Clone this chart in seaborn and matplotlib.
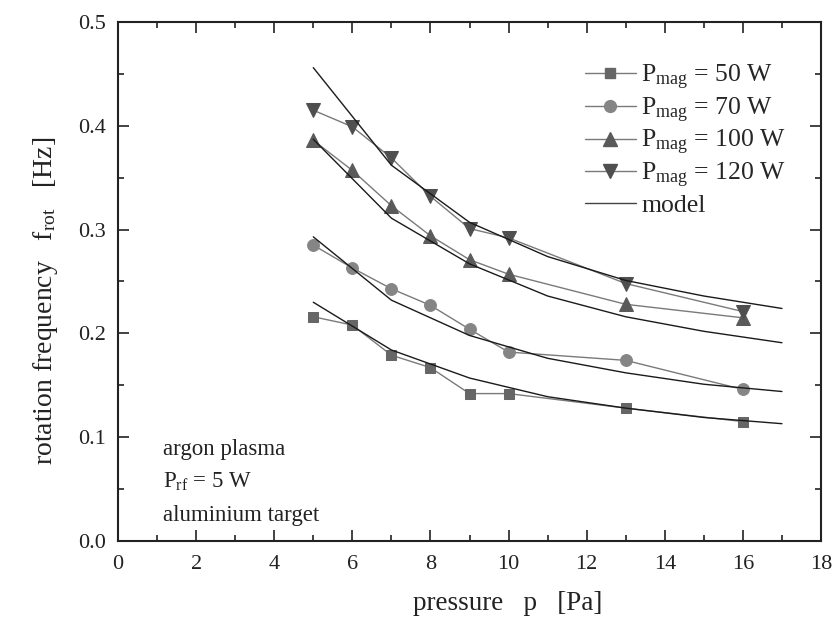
import numpy as np
import pandas as pd
import matplotlib
matplotlib.use("Agg")
import matplotlib.pyplot as plt
from matplotlib.lines import Line2D
from matplotlib.ticker import MultipleLocator
import seaborn as sns

# measured data
pressure = [5, 6, 7, 8, 9, 10, 13, 16]
f_50 = [0.216, 0.208, 0.179, 0.167, 0.142, 0.142, 0.128, 0.115]
f_70 = [0.285, 0.263, 0.243, 0.227, 0.204, 0.182, 0.174, 0.146]
f_100 = [0.386, 0.357, 0.323, 0.294, 0.271, 0.257, 0.228, 0.215]
f_120 = [0.415, 0.399, 0.369, 0.332, 0.301, 0.292, 0.248, 0.221]

# model curves
p_model = [5, 7, 9, 11, 13, 15, 17]
m_50 = [0.230, 0.184, 0.157, 0.139, 0.128, 0.119, 0.113]
m_70 = [0.293, 0.232, 0.198, 0.176, 0.162, 0.151, 0.144]
m_100 = [0.387, 0.311, 0.267, 0.236, 0.216, 0.202, 0.191]
m_120 = [0.456, 0.362, 0.307, 0.274, 0.251, 0.236, 0.224]

labels = ["50 W", "70 W", "100 W", "120 W"]

sns.set_style("ticks")
plt.rcParams['font.family'] = ['Liberation Serif', 'DejaVu Serif']
plt.rcParams['mathtext.fontset'] = 'custom'
plt.rcParams['mathtext.rm'] = 'Liberation Serif'
plt.rcParams['mathtext.it'] = 'Liberation Serif:italic'

fig = plt.figure(figsize=(8.4, 6.26), dpi=100)
ax = fig.add_axes([0.1405, 0.1358, 0.9774 - 0.1405, 0.9649 - 0.1358])

markers = ["s", "o", "^", "v"]
mcolors = ["#666666", "#858585", "#5a5a5a", "#4f4f4f"]
msizes = [7.5, 8.5, 9.5, 9.5]
data = [f_50, f_70, f_100, f_120]
models = [m_50, m_70, m_100, m_120]

for m in models:
    sns.lineplot(x=p_model, y=m, ax=ax, color="#1a1a1a", lw=1.0, zorder=3)

for d, mk, c, ms in zip(data, markers, mcolors, msizes):
    sns.lineplot(x=pressure, y=d, ax=ax, color="#7a7a7a", lw=1.0, marker=mk,
                 markersize=ms, markerfacecolor=c, markeredgecolor=c, zorder=2)

ax.set_xlim(0, 18)
ax.set_ylim(0, 0.5)
ax.xaxis.set_major_locator(MultipleLocator(2))
ax.xaxis.set_minor_locator(MultipleLocator(1))
ax.yaxis.set_major_locator(MultipleLocator(0.1))
ax.yaxis.set_minor_locator(MultipleLocator(0.05))
ax.yaxis.set_major_formatter(matplotlib.ticker.FormatStrFormatter('%.1f'))
ax.tick_params(which='both', direction='in', top=True, right=True, width=1.2,
               labelsize=16, colors='#222222')
ax.tick_params(axis='x', which='major', length=8, pad=10)
ax.tick_params(axis='y', which='major', length=8, pad=9)
ax.tick_params(which='minor', length=4.5)
for s in ax.spines.values():
    s.set_linewidth(1.5)
    s.set_color('#222222')

ax.set_xlabel("pressure   p   [Pa]", fontsize=19.5, color='#222222')
ax.set_ylabel(r"rotation frequency   f$_{\mathrm{rot}}$   [Hz]", fontsize=20,
              color='#222222')
ax.xaxis.set_label_coords(0.555, -0.096)
ax.yaxis.set_label_coords(-0.083, 0.463)

handles = []
for mk, c, ms, lab in zip(markers, mcolors, msizes, labels):
    handles.append(Line2D([], [], color="#7a7a7a", lw=1.0, marker=mk, markersize=ms,
                          markerfacecolor=c, markeredgecolor=c,
                          label=r"P$_{\mathrm{mag}}$ = " + lab))
handles.append(Line2D([], [], color="#444444", lw=1.0, label="model"))
ax.legend(handles=handles, loc='upper right', bbox_to_anchor=(0.983, 0.966),
          frameon=False, fontsize=18.5, handlelength=2.0, labelspacing=0.14,
          handletextpad=0.2)

ax.text(1.15, 0.088, "argon plasma", fontsize=16.5, va='center', color='#222222')
ax.text(1.15, 0.057, r"P$_{\mathrm{rf}}$ = 5 W", fontsize=16.5, va='center', color='#222222')
ax.text(1.15, 0.025, "aluminium target", fontsize=16.5, va='center', color='#222222')

fig.savefig("out.png", dpi=100)
